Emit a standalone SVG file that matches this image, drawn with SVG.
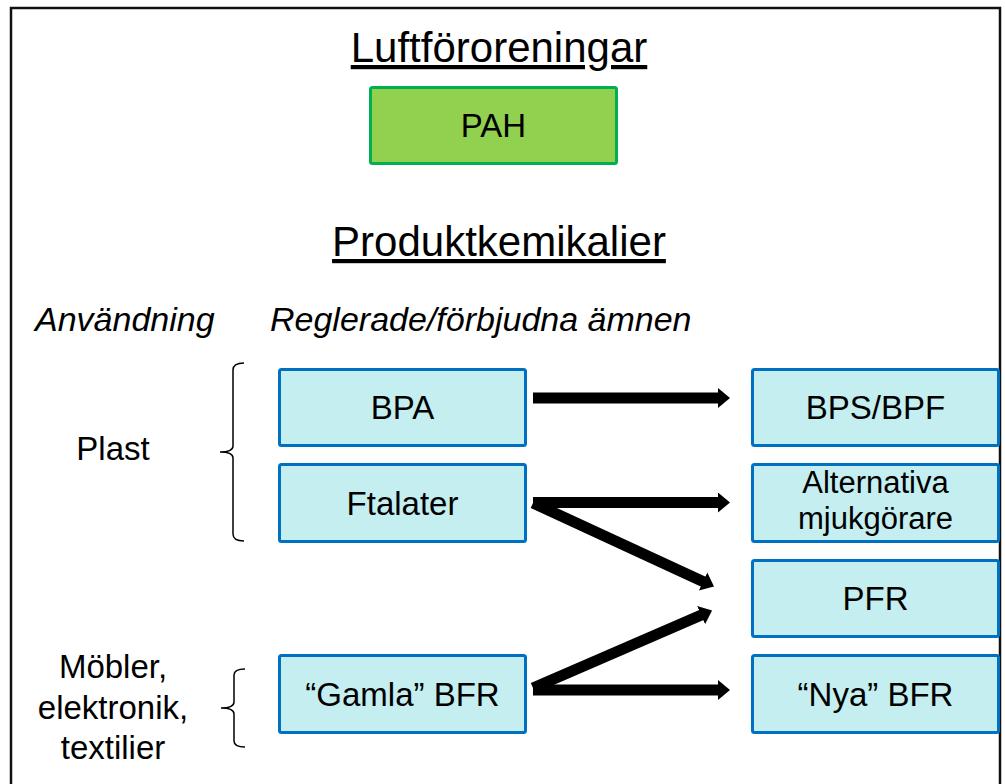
<svg xmlns="http://www.w3.org/2000/svg" width="1005" height="784" viewBox="0 0 1005 784">
<defs>
<style>
text{font-family:"Liberation Sans",Arial,sans-serif;fill:#000}
.title{font-size:42px;text-anchor:middle;text-decoration:underline}
.lbl{font-size:33px;text-anchor:middle}
.sm{font-size:31px}
.ital{font-size:34px;font-style:italic}
.box{fill:#c4eef0;stroke:#0070c0;stroke-width:3}
.brace{fill:none;stroke:#000;stroke-width:1.5}
.arr{stroke:#000;stroke-width:11;fill:none;marker-end:url(#ah)}
</style>
<marker id="ah" markerUnits="userSpaceOnUse" markerWidth="14" markerHeight="22" refX="1" refY="10" orient="auto">
<path d="M0,0 L12,10 L0,20 z" fill="#000"/>
</marker>
</defs>
<rect x="0" y="0" width="1005" height="784" fill="#fff"/>
<rect x="11" y="8" width="989" height="800" fill="none" stroke="#111" stroke-width="2.5"/>

<text class="title" x="499" y="62">Luftföroreningar</text>
<g id="pah">
<rect x="370.5" y="87.5" width="246" height="76" rx="2" fill="#92d050" stroke="#00b050" stroke-width="3"/>
<text class="lbl" x="493.5" y="137">PAH</text>
</g>
<text class="title" x="499" y="256">Produktkemikalier</text>

<text class="ital" x="35" y="331">Användning</text>
<text class="ital" x="270" y="331">Reglerade/förbjudna ämnen</text>

<g id="plast">
<text class="lbl" x="113" y="460">Plast</text>
<path class="brace" d="M244,363 Q233,363 233,370 L233,446 Q233,452 220,452 Q233,452 233,458 L233,534 Q233,541 244,541"/>
</g>
<g id="mobler">
<text class="lbl" x="113" y="678">Möbler,</text>
<text class="lbl" x="113" y="719">elektronik,</text>
<text class="lbl" x="113" y="759">textilier</text>
<path class="brace" d="M245,669 Q234,669 234,675 L234,702 Q234,708 221,708 Q234,708 234,714 L234,741 Q234,747 245,747"/>
</g>

<g id="bpa"><rect class="box" x="279.5" y="369.5" width="246" height="76" rx="2"/><text class="lbl" x="402.5" y="419">BPA</text></g>
<g id="ftalater"><rect class="box" x="279.5" y="464.5" width="246" height="77" rx="2"/><text class="lbl" x="402.5" y="515">Ftalater</text></g>
<g id="gamla"><rect class="box" x="279.5" y="655.5" width="246" height="77" rx="2"/><text class="lbl" x="402.5" y="706">“Gamla” BFR</text></g>
<g id="bps"><rect class="box" x="752.5" y="369.5" width="246" height="76" rx="2"/><text class="lbl" x="875.5" y="419">BPS/BPF</text></g>
<g id="alt"><rect class="box" x="752.5" y="464.5" width="246" height="77" rx="2"/><text class="lbl sm" x="875.5" y="493">Alternativa</text><text class="lbl sm" x="875.5" y="529">mjukgörare</text></g>
<g id="pfr"><rect class="box" x="752.5" y="560.5" width="246" height="76" rx="2"/><text class="lbl" x="875.5" y="610">PFR</text></g>
<g id="nya"><rect class="box" x="752.5" y="655.5" width="246" height="77" rx="2"/><text class="lbl" x="875.5" y="706">“Nya” BFR</text></g>

<g id="connectors">
<line class="arr" x1="533" y1="398" x2="719" y2="398"/>
<line class="arr" x1="533" y1="502.5" x2="719" y2="502.5"/>
<line class="arr" x1="533" y1="503" x2="704" y2="581.9"/>
<line class="arr" x1="533" y1="688" x2="702" y2="614.8"/>
<line class="arr" x1="533" y1="690" x2="719" y2="690"/>
</g>
</svg>
